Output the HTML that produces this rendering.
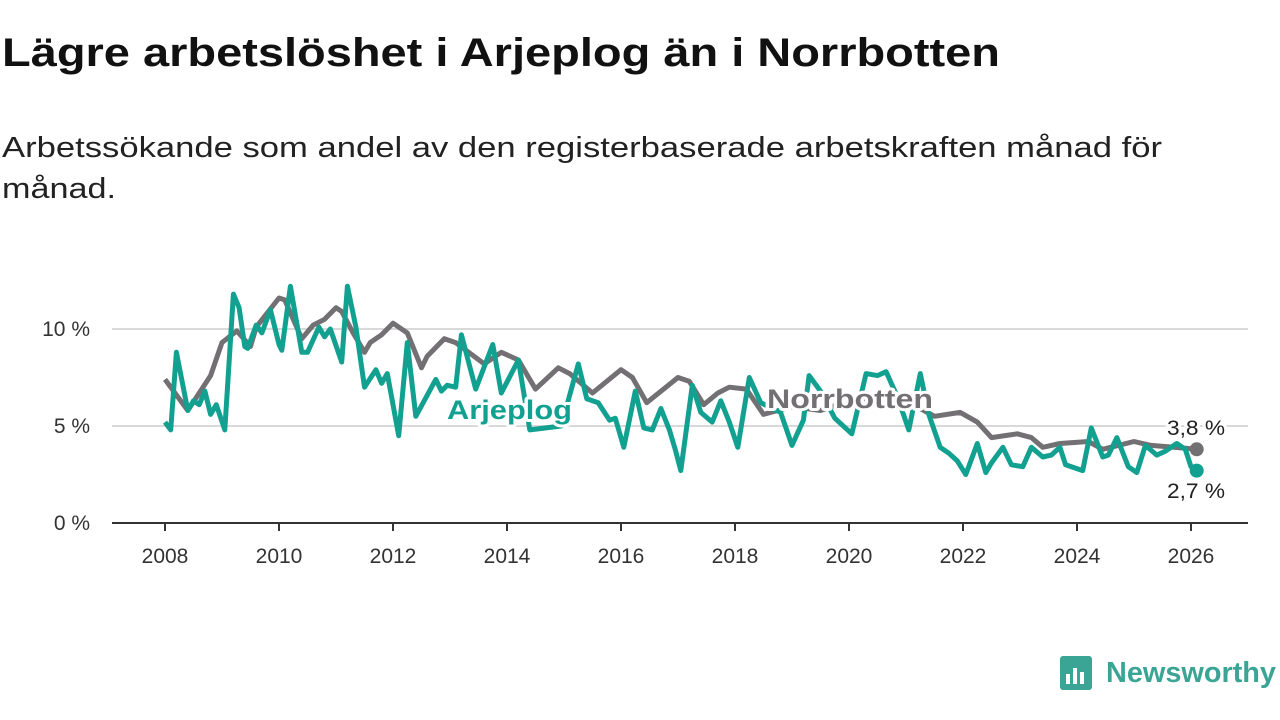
<!DOCTYPE html>
<html><head><meta charset="utf-8"><style>
html,body{margin:0;padding:0;background:#fff;width:1280px;height:720px;overflow:hidden}
svg{display:block;font-family:"Liberation Sans","DejaVu Sans",sans-serif}
</style></head><body>
<svg id="chart" width="1280" height="720" viewBox="0 0 1280 720">
<text x="2" y="66" font-size="40" font-weight="bold" fill="#111" textLength="998" lengthAdjust="spacingAndGlyphs">Lägre arbetslöshet i Arjeplog än i Norrbotten</text>
<text x="2" y="157" font-size="29" fill="#222" textLength="1160" lengthAdjust="spacingAndGlyphs">Arbetssökande som andel av den registerbaserade arbetskraften månad för</text>
<text x="2" y="198" font-size="29" fill="#222" textLength="114" lengthAdjust="spacingAndGlyphs">månad.</text>
<g id="grid"></g>
<g id="xaxis"></g>
<g id="yaxis"></g>
<g id="series"></g>
<g id="labels"></g>
<g>
<rect x="1060" y="656" width="32" height="34" rx="3" fill="#3aa594"/>
<rect x="1066" y="674" width="4" height="10" fill="#fff"/><rect x="1073" y="668" width="4" height="16" fill="#fff"/><rect x="1080" y="672" width="4" height="12" fill="#fff"/>
<text x="1106" y="682" font-size="29" font-weight="bold" fill="#3aa594" textLength="170" lengthAdjust="spacingAndGlyphs">Newsworthy</text>
</g>
</svg>
<script>
const yTicks=[0,5,10];
const yTickLabels=["0 %","5 %","10 %"];
const xTicks=[2008,2010,2012,2014,2016,2018,2020,2022,2024,2026];
const norrT=[2008.0,2008.4,2008.8,2009.0,2009.26,2009.5,2009.6,2010.0,2010.1,2010.4,2010.6,2010.8,2011.0,2011.1,2011.3,2011.5,2011.6,2011.8,2012.0,2012.25,2012.5,2012.6,2012.9,2013.1,2013.6,2013.9,2014.2,2014.5,2014.9,2015.1,2015.5,2016.0,2016.2,2016.45,2017.0,2017.2,2017.45,2017.7,2017.9,2018.2,2018.5,2019.0,2019.5,2020.0,2020.5,2021.0,2021.5,2021.95,2022.25,2022.5,2022.95,2023.2,2023.4,2023.7,2024.2,2024.45,2025.0,2025.3,2025.7,2026.1];
const norrV=[7.4,5.8,7.6,9.3,9.9,9.1,10.1,11.6,11.5,9.5,10.2,10.5,11.1,10.9,9.8,8.8,9.3,9.7,10.3,9.8,8.0,8.6,9.5,9.3,8.2,8.8,8.4,6.9,8.0,7.7,6.7,7.9,7.5,6.2,7.5,7.3,6.1,6.7,7.0,6.9,5.6,6.0,5.8,6.3,6.5,6.3,5.5,5.7,5.2,4.4,4.6,4.4,3.9,4.1,4.2,3.8,4.2,4.0,3.9,3.8];
const arjT=[2008.0,2008.1,2008.2,2008.4,2008.5,2008.6,2008.7,2008.8,2008.9,2009.05,2009.2,2009.3,2009.4,2009.45,2009.6,2009.7,2009.85,2010.0,2010.05,2010.2,2010.4,2010.5,2010.7,2010.8,2010.9,2011.1,2011.2,2011.35,2011.5,2011.7,2011.8,2011.9,2012.1,2012.25,2012.4,2012.75,2012.85,2012.95,2013.1,2013.2,2013.45,2013.75,2013.9,2014.2,2014.4,2014.95,2015.25,2015.4,2015.6,2015.8,2015.9,2016.05,2016.25,2016.4,2016.55,2016.7,2016.85,2016.95,2017.05,2017.25,2017.4,2017.6,2017.75,2017.9,2018.05,2018.25,2018.45,2018.8,2019.0,2019.2,2019.3,2019.5,2019.75,2020.05,2020.3,2020.5,2020.65,2020.85,2021.05,2021.25,2021.4,2021.6,2021.75,2021.9,2022.05,2022.25,2022.4,2022.5,2022.7,2022.85,2023.05,2023.2,2023.4,2023.55,2023.7,2023.8,2024.1,2024.25,2024.45,2024.55,2024.7,2024.9,2025.05,2025.2,2025.4,2025.55,2025.75,2025.9,2026.0,2026.1];
const arjV=[5.2,4.8,8.8,5.8,6.3,6.1,6.8,5.6,6.1,4.8,11.8,11.1,9.1,9.0,10.2,9.8,11.0,9.2,8.9,12.2,8.8,8.8,10.1,9.6,10.0,8.3,12.2,10.1,7.0,7.9,7.2,7.7,4.5,9.3,5.5,7.4,6.8,7.1,7.0,9.7,6.9,9.2,6.7,8.4,4.8,5.0,8.2,6.4,6.2,5.3,5.4,3.9,6.8,4.9,4.8,5.9,4.8,3.8,2.7,7.1,5.7,5.2,6.3,5.2,3.9,7.5,6.2,5.7,4.0,5.3,7.6,6.8,5.4,4.6,7.7,7.6,7.8,6.5,4.8,7.7,5.6,3.9,3.6,3.2,2.5,4.1,2.6,3.1,3.9,3.0,2.9,3.9,3.4,3.5,3.9,3.0,2.7,4.9,3.4,3.5,4.4,2.9,2.6,4.0,3.5,3.7,4.1,3.8,2.9,2.7];
const NS="http://www.w3.org/2000/svg";
function xs(t){return 165+(t-2008)*57;}
function ys(v){return 523-v*19.4;}
function mk(tag,attrs,parent){const e=document.createElementNS(NS,tag);for(const k in attrs)e.setAttribute(k,attrs[k]);parent.appendChild(e);return e;}
const grid=document.getElementById('grid'),xa=document.getElementById('xaxis'),ya=document.getElementById('yaxis'),ser=document.getElementById('series'),lab=document.getElementById('labels');
yTicks.forEach((v,i)=>{
  if(v>0){const l=mk('line',{x1:112,x2:1248,y1:ys(v),y2:ys(v),stroke:'#d9d9d9','stroke-width':2},grid);
  
  }
  const t=mk('text',{x:90,y:ys(v)+7,'font-size':21,fill:'#333','text-anchor':'end'},ya);
  
  
  t.textContent=yTickLabels[i];
});
const ax=mk('line',{x1:112,x2:1248,y1:ys(0),y2:ys(0),stroke:'#333','stroke-width':2},xa);


xTicks.forEach(y=>{
  const tk=mk('line',{x1:xs(y),x2:xs(y),y1:ys(0),y2:ys(0)+8,stroke:'#333','stroke-width':2},xa);
  
  
  const t=mk('text',{x:xs(y),y:563,'font-size':21,fill:'#333','text-anchor':'middle'},xa);
  
  
  t.textContent=y;
});
function path(T,V){return T.map((t,i)=>(i?'L':'M')+xs(t).toFixed(1)+','+ys(V[i]).toFixed(1)).join('');}
const pn=mk('path',{d:path(norrT,norrV),fill:'none',stroke:'#727072','stroke-width':5,'stroke-linejoin':'round'},ser);


const pa=mk('path',{d:path(arjT,arjV),fill:'none',stroke:'#12a190','stroke-width':5,'stroke-linejoin':'round'},ser);


const dn=mk('circle',{cx:xs(norrT[norrT.length-1]),cy:ys(norrV[norrV.length-1]),r:7,fill:'#727072'},ser);


const da=mk('circle',{cx:xs(arjT[arjT.length-1]),cy:ys(arjV[arjV.length-1]),r:7,fill:'#12a190'},ser);


function label(txt,x,y,size,col,bold,name,len){
  const t=mk('text',{x:x,y:y,'font-size':size,fill:col,'font-weight':bold?'bold':'normal',stroke:'#fff','stroke-width':6,'paint-order':'stroke','stroke-linejoin':'round'},lab);
  if(len){t.setAttribute('textLength',len);t.setAttribute('lengthAdjust','spacingAndGlyphs');}
  
  
  t.textContent=txt;return t;
}
label('Arjeplog',447,419,27,'#12a190',true,'arjeplog-label',125);
label('Norrbotten',767,408,27,'#727072',true,'norrbotten-label',166);
label('3,8 %',1167,435,21,'#222',false,'norrbotten-end-value',58);
label('2,7 %',1167,498,21,'#222',false,'arjeplog-end-value',58);
</script>
</body></html>
